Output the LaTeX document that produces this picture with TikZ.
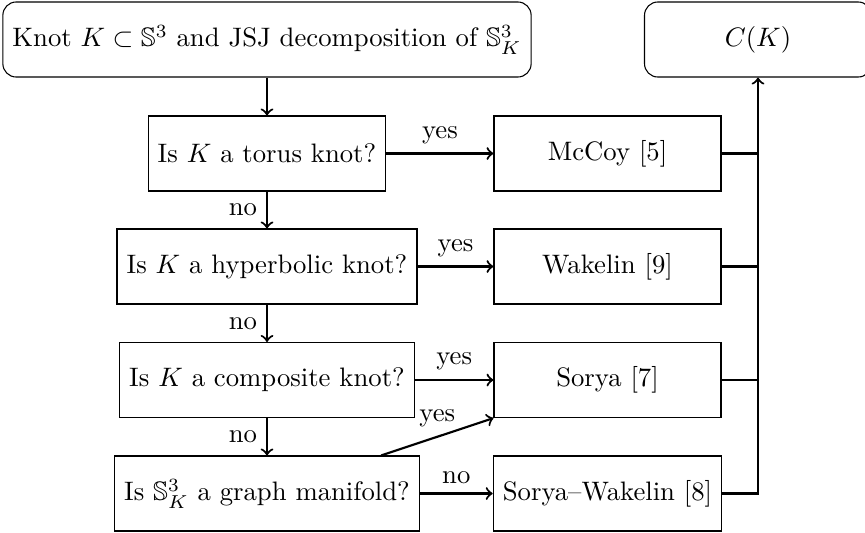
\documentclass[tikz,border=0pt]{standalone}
\usepackage{amssymb}
\begin{document}
\begin{tikzpicture}[x=0.3745pt,y=-0.3745pt,
  box/.style={draw, line width=0.4pt, minimum height=28.1pt, inner xsep=3.6pt},
  rbox/.style={box, rounded corners=5pt},
  res/.style={box, minimum width=85pt},
  conn/.style={line width=0.8pt},
  arr/.style={line width=0.8pt, ->}]
\useasboundingbox (0,0) rectangle (865,532);
\node[rbox] (top) at (267,39.5) {Knot $K\subset\mathbb{S}^3$ and JSJ decomposition of $\mathbb{S}^3_K$};
\node[rbox, minimum width=85pt] (ck) at (758,39.5) {$C(K)$};
\node[box] (torus) at (267,153.5) {Is $K$ a torus knot?};
\node[box] (hyp) at (267,266.5) {Is $K$ a hyperbolic knot?};
\node[box] (comp) at (267,380) {Is $K$ a composite knot?};
\node[box] (graph) at (267,493.5) {Is $\mathbb{S}^3_K$ a graph manifold?};
\node[res] (mccoy) at (607.5,153.5) {McCoy [5]};
\node[res] (wak) at (607.5,266.5) {Wakelin [9]};
\node[res] (sorya) at (607.5,380) {Sorya [7]};
\node[res] (sw) at (607.5,493.5) {Sorya--Wakelin [8]};
\draw[arr] (top) -- (torus);
\draw[arr] (torus) -- node[left] {no} (hyp);
\draw[arr] (hyp) -- node[left] {no} (comp);
\draw[arr] (comp) -- node[left] {no} (graph);
\draw[arr] (torus) -- node[above] {yes} (mccoy);
\draw[arr] (hyp) -- node[above] {yes} (wak);
\draw[arr] (comp) -- node[above] {yes} (sorya);
\draw[arr] (graph) -- node[above] {yes} (sorya.south west);
\draw[arr] (graph) -- node[above] {no} (sw);
\draw[conn] (mccoy.east) -- (mccoy.east -| ck.south);
\draw[conn] (wak.east) -- (wak.east -| ck.south);
\draw[conn] (sorya.east) -- (sorya.east -| ck.south);
\draw[arr] (sw.east) -| (ck.south);
\end{tikzpicture}
\end{document}
